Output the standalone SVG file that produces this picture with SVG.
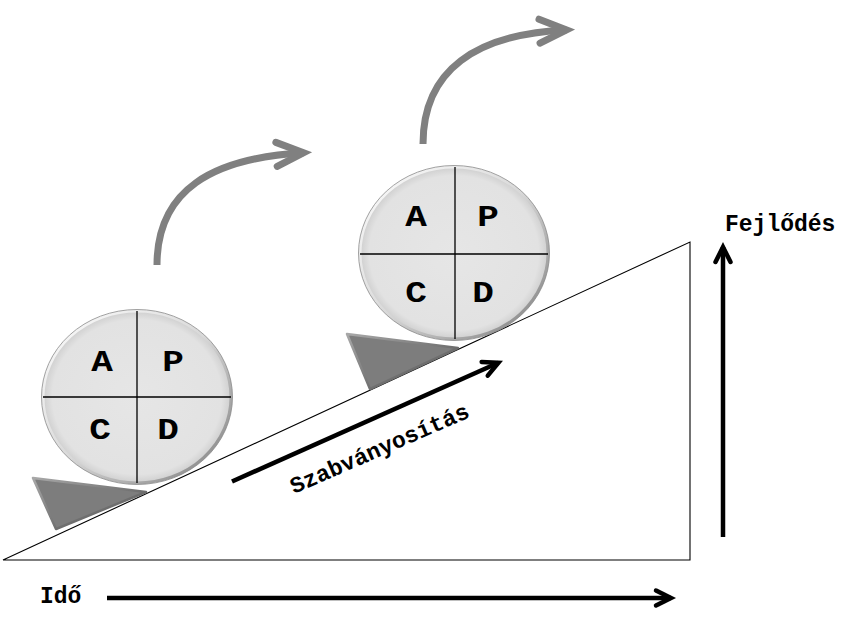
<svg xmlns="http://www.w3.org/2000/svg" width="856" height="627" viewBox="0 0 856 627">
<defs>
<style>
.lbl{font-family:"Liberation Mono","Courier New",monospace;font-weight:bold;fill:#000}
.big{font-size:30px}
.mid{font-size:23px}
.blk{fill:none;stroke:#000;stroke-width:4.5}
.gry{fill:none;stroke:#808080;stroke-width:7}
.div{stroke:#000;stroke-width:1.3}
.disc{fill:url(#discFill);stroke:url(#discEdge);stroke-width:3}
.discOut{fill:none;stroke:#8a8a8a;stroke-width:0.8}
.wedge{fill:#7d7d7d;stroke:url(#wedgeEdge);stroke-width:2.5;stroke-linejoin:round}
</style>
<radialGradient id="discFill" cx="50%" cy="50%" r="50%">
<stop offset="0" stop-color="#e6e6e6"/>
<stop offset="0.9" stop-color="#e2e2e2"/>
<stop offset="1" stop-color="#cfcfcf"/>
</radialGradient>
<linearGradient id="discEdge" x1="0" y1="0" x2="1" y2="1">
<stop offset="0" stop-color="#ffffff"/>
<stop offset="0.5" stop-color="#d8d8d8"/>
<stop offset="1" stop-color="#7a7a7a"/>
</linearGradient>
<linearGradient id="wedgeEdge" x1="0" y1="0" x2="1" y2="1">
<stop offset="0" stop-color="#a8a8a8"/>
<stop offset="1" stop-color="#4a4a4a"/>
</linearGradient>
<marker id="chevB" viewBox="-22 -14 32 28" markerWidth="32" markerHeight="28" refX="0" refY="0" orient="auto" markerUnits="userSpaceOnUse">
<path d="M-15,-7.5 L0,0 L-15,7.5" fill="none" stroke="#000" stroke-width="4.5" stroke-linecap="round" stroke-linejoin="miter" stroke-miterlimit="10"/>
</marker>
<marker id="chevG" viewBox="-34 -20 50 40" markerWidth="50" markerHeight="40" refX="0" refY="0" orient="auto" markerUnits="userSpaceOnUse">
<path d="M-27,-12 L0,0 L-27,12" fill="none" stroke="#808080" stroke-width="7" stroke-linecap="round" stroke-linejoin="miter" stroke-miterlimit="10"/>
</marker>
</defs>
<rect width="856" height="627" fill="#fff"/>

<g id="slope">
<polygon points="3,560 690,242 690,560" fill="#fff" stroke="#000" stroke-width="1.1"/>
</g>

<g id="wedge1">
<polygon class="wedge" points="33,478 146,492 56,529"/>
</g>
<g id="wedge2">
<polygon class="wedge" points="347,334 458,348 370,389"/>
</g>

<g id="pdca1">
<ellipse class="disc" cx="137" cy="397" rx="94" ry="86"/>
<ellipse class="discOut" cx="137" cy="397" rx="95.5" ry="87.5"/>
<line class="div" x1="137" y1="311" x2="137" y2="483"/>
<line class="div" x1="43" y1="397" x2="231" y2="397"/>
<text class="lbl big" text-anchor="middle" transform="translate(102,371) scale(1.2,1)">A</text>
<text class="lbl big" text-anchor="middle" transform="translate(173,371) scale(1.2,1)">P</text>
<text class="lbl big" text-anchor="middle" transform="translate(100,439) scale(1.2,1)">C</text>
<text class="lbl big" text-anchor="middle" transform="translate(168,439) scale(1.2,1)">D</text>
</g>

<g id="pdca2">
<ellipse class="disc" cx="454" cy="253" rx="94" ry="86"/>
<ellipse class="discOut" cx="454" cy="253" rx="95.5" ry="87.5"/>
<line class="div" x1="455" y1="167" x2="455" y2="339"/>
<line class="div" x1="360" y1="254" x2="548" y2="254"/>
<text class="lbl big" text-anchor="middle" transform="translate(416,226) scale(1.2,1)">A</text>
<text class="lbl big" text-anchor="middle" transform="translate(488,226) scale(1.2,1)">P</text>
<text class="lbl big" text-anchor="middle" transform="translate(416,302) scale(1.2,1)">C</text>
<text class="lbl big" text-anchor="middle" transform="translate(483,302) scale(1.2,1)">D</text>
</g>

<g id="connectors">
<path class="gry" d="M157,265 C157,190 212,158 303.5,152.8" marker-end="url(#chevG)"/>
<path class="gry" d="M423,144 C423,70 476,34 566.5,30" marker-end="url(#chevG)"/>
<line class="blk" x1="232" y1="481.5" x2="498.4" y2="362.7" marker-end="url(#chevB)"/>
<line class="blk" x1="723" y1="537" x2="723" y2="247" marker-end="url(#chevB)"/>
<line class="blk" x1="107" y1="598" x2="671" y2="598" marker-end="url(#chevB)"/>
</g>

<g id="labels">
<text class="lbl mid" x="0" y="0" transform="translate(294,494) rotate(-23.6)" textLength="193">Szabványosítás</text>
<text class="lbl mid" x="725" y="231">Fejlődés</text>
<text class="lbl mid" x="40" y="603">Idő</text>
</g>
</svg>
